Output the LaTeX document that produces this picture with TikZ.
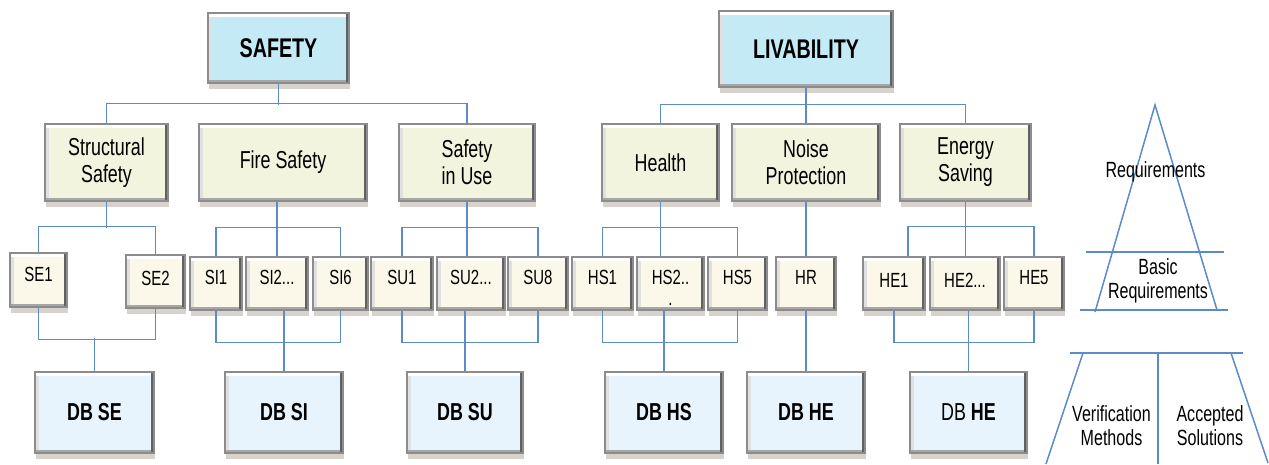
\documentclass[tikz,border=0pt]{standalone}
\usepackage{fontspec}
\setmainfont{Liberation Sans}[FakeStretch=0.73]
\usetikzlibrary{shadows}

\definecolor{topfill}{HTML}{C4EAF5}
\definecolor{areafill}{HTML}{F2F4DE}
\definecolor{reqfill}{HTML}{FBF8EA}
\definecolor{dbfill}{HTML}{E8F4FD}
\definecolor{linecol}{HTML}{5B8BC9}

\newcommand\topfont{\fontsize{27}{30}\selectfont\bfseries}
\newcommand\areafont{\fontsize{24.5}{27}\selectfont}
\newcommand\reqfont{\fontsize{20.5}{23}\selectfont}
\newcommand\dbfont{\fontsize{24.5}{27}\selectfont\bfseries}
\newcommand\trifont{\fontsize{22}{24.5}\selectfont}

\begin{document}
\begin{tikzpicture}[x=1pt, y=-1pt]
\useasboundingbox (0,0) rectangle (1269,464);

\tikzstyle{bevel} = [path picture={
    \draw[black!12, line width=7pt] (path picture bounding box.south west) -- (path picture bounding box.north west);
    \draw[white, line width=7pt] (path picture bounding box.north west) -- (path picture bounding box.north east);
    \draw[black!35, line width=7pt] (path picture bounding box.south west) -- (path picture bounding box.south east);
    \draw[black!62, line width=7pt] (path picture bounding box.north east) -- (path picture bounding box.south east);}]

\tikzstyle{box} = [rectangle, draw=black!45, line width=1.4pt, bevel, text centered, drop shadow={shadow xshift=1pt, shadow yshift=-6pt, opacity=0.22, fill=black!60!brown}]

\tikzstyle{topbox} = [box, fill=topfill, font=\topfont]
\tikzstyle{areabox} = [box, fill=areafill, font=\areafont, align=center, minimum height=77pt]
\tikzstyle{reqbox} = [box, fill=reqfill, font=\reqfont, minimum height=53pt, text height=7.5pt, text depth=5.5pt]
\tikzstyle{reqmid} = [reqbox, text depth=0pt]
\tikzstyle{dbbox} = [box, fill=dbfill, font=\dbfont, minimum height=81pt]

\tikzstyle{link} = [draw=linecol, line width=1.5pt]
\tikzstyle{tritext} = [font=\trifont, align=center, inner sep=0pt]

    % top level
    \node [topbox, minimum width=141pt, minimum height=70pt] (SAF) at (278.5,48) {SAFETY};
    \node [topbox, minimum width=174pt, minimum height=76pt] (LIV) at (806,49) {LIVABILITY};

    % areas
    \node [areabox, minimum width=123pt] (SS) at (106.5,162.5) {Structural\\Safety};
    \node [areabox, minimum width=168pt] (FS) at (283,162.5) {Fire Safety};
    \node [areabox, minimum width=136pt] (SIU) at (467,162.5) {Safety\\in Use};
    \node [areabox, minimum width=117pt] (HEA) at (660.5,162.5) {Health};
    \node [areabox, minimum width=148pt] (NP) at (806,162.5) {Noise\\Protection};
    \node [areabox, minimum width=131pt] (ES) at (965.5,162.5) {Energy\\Saving};

    % basic requirements
    \node [reqbox, minimum width=57pt, minimum height=54pt] (SE1) at (38.5,280) {SE1};
    \node [reqmid, minimum width=59pt] (SE2) at (155.5,281.5) {SE2};
    \node [reqbox, minimum width=52pt] (SI1) at (216,283.5) {SI1};
    \node [reqbox, minimum width=62pt] (SI2) at (277,283.5) {SI2...};
    \node [reqbox, minimum width=55pt] (SI6) at (340.5,283.5) {SI6};
    \node [reqbox, minimum width=62pt] (SU1) at (402,283.5) {SU1};
    \node [reqbox, minimum width=68pt] (SU2) at (471,283.5) {SU2...};
    \node [reqbox, minimum width=60pt] (SU8) at (538,283.5) {SU8};
    \node [reqbox, minimum width=61pt] (HS1) at (602.5,283.5) {HS1};
    \node [reqbox, minimum width=67pt, label={[font=\reqfont, inner sep=0pt, anchor=base, yshift=5pt]south:.}] (HS2) at (670.5,283.5) {HS2..};
    \node [reqbox, minimum width=59pt] (HS5) at (737.5,283.5) {HS5};
    \node [reqbox, minimum width=60pt] (HR) at (806,283.5) {HR};
    \node [reqmid, minimum width=62pt] (HE1) at (894,283.5) {HE1};
    \node [reqmid, minimum width=70pt] (HE2) at (965,283.5) {HE2...};
    \node [reqbox, minimum width=60pt] (HE5) at (1034,283.5) {HE5};

    % documents
    \node [dbbox, minimum width=119pt] (DBSE) at (94.5,412.5) {DB SE};
    \node [dbbox, minimum width=118pt] (DBSI) at (284,412.5) {DB SI};
    \node [dbbox, minimum width=116pt] (DBSU) at (465,412.5) {DB SU};
    \node [dbbox, minimum width=118pt] (DBHS) at (664,412.5) {DB HS};
    \node [dbbox, minimum width=118pt] (DBHE) at (806,412.5) {DB HE};
    \node [dbbox, minimum width=117pt] (DBHE2) at (968.5,412.5) {\mdseries DB \bfseries HE};

    % links
    \draw [link] (SAF.south) -- ++(0,21);
    \draw [link] (SS.north) -- ++(0,-20) -| (SIU.north);
    \draw [link] (LIV.south) -- (NP.north);
    \draw [link] (HEA.north) -- ++(0,-19) -| (ES.north);

    \draw [link] (SS.south) -- ++(0,26);
    \draw [link] (SE1.north) -- ++(0,-26) -| (SE2.north);
    \draw [link] (SE1.south) -- ++(0,32) -| (SE2.south);
    \draw [link] (DBSE.north) -- ++(0,-33);

    \draw [link] (SI2.north) -- (SI2.north |- FS.south);
    \draw [link] (SI1.north) -- ++(0,-29) -| (SI6.north);
    \draw [link] (SI1.south) -- ++(0,32) -| (SI6.south);
    \draw [link] (DBSI.north) -- (DBSI.north |- SI2.south);

    \draw [link] (SIU.south) -- (SIU.south |- SU2.north);
    \draw [link] (SU1.north) -- ++(0,-29) -| (SU8.north);
    \draw [link] (SU1.south) -- ++(0,32) -| (SU8.south);
    \draw [link] (DBSU.north) -- (DBSU.north |- SU2.south);

    \draw [link] (HEA.south) -- (HEA.south |- HS2.north);
    \draw [link] (HS1.north) -- ++(0,-29) -| (HS5.north);
    \draw [link] (HS1.south) -- ++(0,32) -| (HS5.south);
    \draw [link] (DBHS.north) -- (DBHS.north |- HS2.south);

    \draw [link] (NP.south) -- (HR.north);
    \draw [link] (HR.south) -- (DBHE.north);

    \draw [link] (ES.south) -- (ES.south |- HE2.north);
    \draw [link] ([xshift=14pt]HE1.north) -- ++(0,-30) -| (HE5.north);
    \draw [link] (HE1.south) -- ++(0,32) -| (HE5.south);
    \draw [link] (DBHE2.north) -- (DBHE2.north |- HE2.south);

    % pyramid
    \draw [link] (1095,312) -- (1155,105) -- (1217,310);
    \draw [link] (1086,252) -- (1224,252);
    \draw [link] (1080,310) -- (1228,310);
    \draw [link] (1070,353) -- (1243,353);
    \draw [link] (1083,353) -- (1046,464);
    \draw [link] (1158,353) -- (1158,464);
    \draw [link] (1231,353) -- (1268,463);

    \node [tritext] (REQ) at (1155.5,172) {Requirements};
    \node [tritext] (BREQ) at (1158,281) {Basic\\Requirements};
    \node [tritext] (VER) at (1111.5,425.5) {Verification\\Methods};
    \node [tritext] (ACC) at (1210,425.5) {Accepted\\Solutions};

\end{tikzpicture}
\end{document}
